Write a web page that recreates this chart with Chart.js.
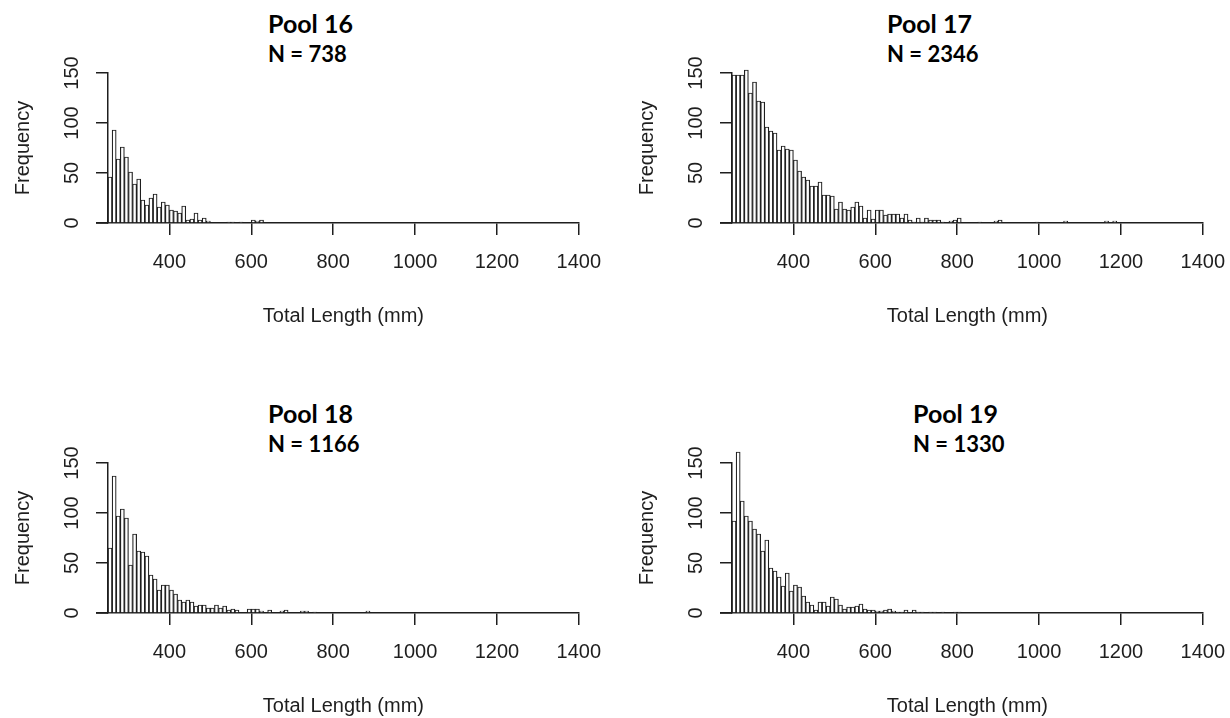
<!DOCTYPE html>
<html>
<head>
<meta charset="utf-8">
<script src="https://cdn.jsdelivr.net/npm/chart.js@4.4.1/dist/chart.umd.min.js"></script>
<style>
  html, body { margin: 0; padding: 0; background: #fff; }
  #wrap { position: relative; width: 1230px; height: 718px; overflow: hidden; background: #fff; }
  canvas { position: absolute; }
  .ttl { position: absolute; font-family: Lato, "Noto Sans", sans-serif; font-weight: bold; color: #000; white-space: nowrap; }
  .main { font-size: 25px; line-height: 25px; }
  .sub { font-size: 22px; line-height: 22px; }
</style>
</head>
<body>
<div id="wrap"></div>
<script>
// histogram bins: 10 mm wide, first bin starts at 250 mm
const binStart = 250;
const binWidth = 10;

const pool16Counts = [46, 93, 64, 76, 66, 51, 39, 44, 23, 18,
  25, 29, 16, 21, 18, 13, 12, 10, 17, 3,
  4, 10, 3, 5, 2, 0, 0, 0, 0, 1,
  1, 0, 1, 0, 0, 3, 2, 3];

const pool17Counts = [148, 148, 148, 153, 130, 141, 122, 121, 96, 92,
  90, 73, 77, 74, 73, 63, 52, 46, 43, 37,
  37, 41, 28, 28, 27, 14, 21, 14, 13, 16,
  21, 17, 5, 13, 4, 13, 13, 8, 9, 9,
  9, 5, 9, 3, 1, 5, 1, 5, 3, 3,
  3, 1, 0, 2, 3, 5, 0, 0, 0, 0,
  1, 0, 0, 0, 2, 3, 0, 0, 0, 0,
  0, 0, 0, 0, 1, 0, 0, 0, 0, 0,
  0, 2, 0, 0, 0, 0, 0, 0, 0, 0,
  0, 2, 0, 2];

const pool18Counts = [65, 137, 97, 104, 95, 48, 79, 62, 61, 57,
  38, 34, 23, 28, 28, 23, 19, 13, 11, 13,
  11, 7, 8, 8, 5, 5, 8, 5, 7, 3,
  4, 3, 0, 0, 4, 4, 4, 2, 0, 3,
  0, 0, 2, 3, 0, 0, 0, 2, 2, 0,
  1, 0, 0, 0, 0, 0, 0, 0, 0, 0,
  0, 0, 0, 2];

const pool19Counts = [92, 161, 112, 97, 92, 84, 79, 62, 73, 45,
  42, 36, 27, 40, 22, 28, 26, 17, 11, 8,
  3, 11, 11, 7, 16, 14, 8, 4, 6, 6,
  7, 9, 4, 3, 3, 2, 2, 3, 4, 2,
  1, 1, 3, 0, 3, 1, 1, 0, 1, 1,
  0, 1, 0, 0, 1, 1];

const poolNames = ["Pool 16", "Pool 17", "Pool 18", "Pool 19"];
const poolN = [738, 2346, 1166, 1330];
const xTicks = [400, 600, 800, 1000, 1200, 1400];
const yTicks = [0, 50, 100, 150];
const xTitle = "Total Length (mm)";
const yTitle = "Frequency";

const INK = "#1e1e1e";
const AXIS_FONT = { family: "'Liberation Sans', Arial, sans-serif", size: 20 };

// panel placement on the page
const panelPos = [
  { left: 0, top: 0, titleLeft: 268 },
  { left: 624, top: 0, titleLeft: 887 },
  { left: 0, top: 390, titleLeft: 268 },
  { left: 624, top: 390, titleLeft: 913 }
];

// R style rotated y tick labels and x axis line running under the y ticks
const rAxisExtras = {
  id: "rAxisExtras",
  afterDraw(chart) {
    const { ctx, chartArea, scales: { y } } = chart;
    ctx.save();
    ctx.strokeStyle = INK;
    ctx.lineWidth = 1.5;
    ctx.beginPath();
    ctx.moveTo(chartArea.left - 12, chartArea.bottom);
    ctx.lineTo(chartArea.left, chartArea.bottom);
    ctx.stroke();

    ctx.fillStyle = INK;
    ctx.font = AXIS_FONT.size + "px " + AXIS_FONT.family;
    ctx.textAlign = "center";
    ctx.textBaseline = "middle";
    y.ticks.forEach(t => {
      ctx.save();
      ctx.translate(chartArea.left - 36, y.getPixelForValue(t.value));
      ctx.rotate(-Math.PI / 2);
      ctx.fillText(String(t.value), 0, 0);
      ctx.restore();
    });
    ctx.restore();
  }
};

function makePanel(i, counts) {
  const pos = panelPos[i];
  const wrap = document.getElementById("wrap");

  const t1 = document.createElement("div");
  t1.className = "ttl main";
  t1.style.left = pos.titleLeft + "px";
  t1.style.top = (pos.top + 11) + "px";
  t1.textContent = poolNames[i];
  wrap.appendChild(t1);

  const t2 = document.createElement("div");
  t2.className = "ttl sub";
  t2.style.left = pos.titleLeft + "px";
  t2.style.top = (pos.top + 43) + "px";
  t2.textContent = "N = " + poolN[i];
  wrap.appendChild(t2);

  const canvas = document.createElement("canvas");
  canvas.width = 616;
  canvas.height = 328;
  canvas.style.left = pos.left + "px";
  canvas.style.top = pos.top + "px";
  wrap.appendChild(canvas);

  const points = [];
  counts.forEach((c, k) => {
    if (c > 0) points.push({ x: binStart + binWidth * k + binWidth / 2, y: c });
  });

  new Chart(canvas.getContext("2d"), {
    type: "bar",
    data: {
      datasets: [{
        data: points,
        backgroundColor: "#fff",
        borderColor: INK,
        borderWidth: 1.2,
        borderSkipped: "start",
        barPercentage: 1,
        categoryPercentage: 1,
        clip: false
      }]
    },
    options: {
      responsive: false,
      animation: false,
      devicePixelRatio: 1,
      layout: { padding: { left: 0, right: 18, top: 73, bottom: 0 } },
      plugins: { legend: { display: false }, tooltip: { enabled: false } },
      scales: {
        x: {
          type: "linear",
          offset: false,
          min: 250,
          max: 1400,
          afterBuildTicks: s => { s.ticks = xTicks.map(v => ({ value: v })); },
          afterFit: s => { s.height = 105; },
          grid: { offset: false, drawOnChartArea: false, drawTicks: true, tickLength: 12, color: INK, lineWidth: 1.5 },
          border: { display: true, color: INK, width: 1.5 },
          ticks: { autoSkip: false, maxRotation: 0, padding: 15, color: INK, font: AXIS_FONT, callback: v => String(v) },
          title: { display: true, text: xTitle, color: INK, font: AXIS_FONT, padding: { top: 0, bottom: 0 } }
        },
        y: {
          min: 0,
          max: 150,
          afterBuildTicks: s => { s.ticks = yTicks.map(v => ({ value: v })); },
          afterFit: s => { s.width = 108; },
          grid: { drawOnChartArea: false, drawTicks: true, tickLength: 12, color: INK, lineWidth: 1.5 },
          border: { display: true, color: INK, width: 1.5 },
          ticks: { display: false },
          title: { display: true, text: yTitle, color: INK, font: AXIS_FONT, padding: { top: 11, bottom: 0 } }
        }
      }
    },
    plugins: [rAxisExtras]
  });
}

[pool16Counts, pool17Counts, pool18Counts, pool19Counts].forEach((c, i) => makePanel(i, c));
</script>
</body>
</html>
